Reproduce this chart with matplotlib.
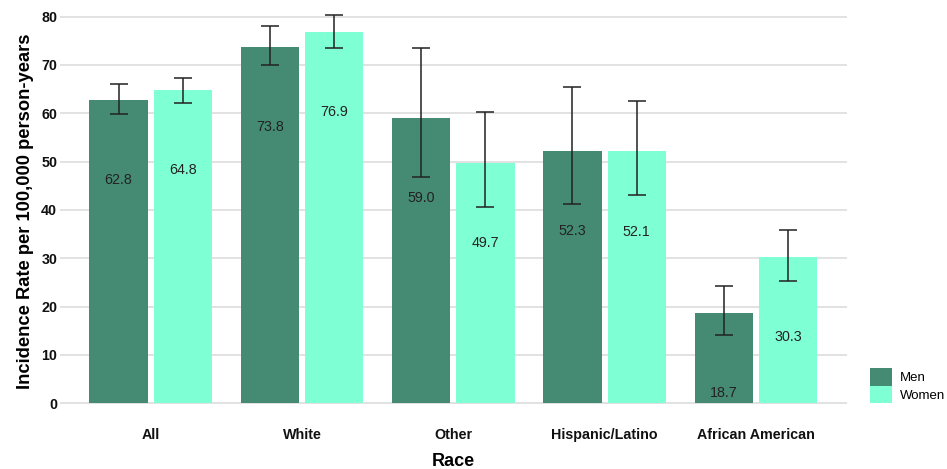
import numpy as np
import matplotlib.pyplot as plt
from matplotlib.patches import Patch

plt.rcParams['font.family'] = ['Liberation Sans', 'DejaVu Sans']

races = ['All', 'White', 'Other', 'Hispanic/Latino', 'African American']
men = [62.8, 73.8, 59.0, 52.3, 18.7]
women = [64.8, 76.9, 49.7, 52.1, 30.3]
men_low = [59.8, 70.0, 46.8, 41.2, 14.1]
men_high = [66.0, 78.0, 73.5, 65.5, 24.3]
women_low = [62.2, 73.5, 40.6, 43.0, 25.2]
women_high = [67.3, 80.4, 60.2, 62.5, 35.9]

men_color = '#458B74'
women_color = '#7FFFD4'

fig = plt.figure(figsize=(9.47, 4.69), dpi=100)
ax = fig.add_axes([60 / 947, 1 - 422.6 / 469, 786.7 / 947, 422.6 / 469])

x = np.arange(len(races))
w = 0.387
off = 0.2125

for vals, lo, hi, pos, col in [(men, men_low, men_high, x - off, men_color),
                               (women, women_low, women_high, x + off, women_color)]:
    vals = np.array(vals)
    ax.bar(pos, vals, width=w, color=col, zorder=2)
    yerr = [vals - np.array(lo), np.array(hi) - vals]
    ax.errorbar(pos, vals, yerr=yerr, fmt='none', ecolor='#222222',
                elinewidth=1.1, capsize=6.8, capthick=1.1, zorder=3)
    # value labels sit a fixed distance below the bar top
    for px, v in zip(pos, vals):
        ax.text(px, v - 16.6, f'{v:.1f}', ha='center', va='center',
                fontsize=10.3, color='#222222', zorder=4)

ax.set_xlim(-0.6, 4.6)
ax.set_ylim(-4.0, 83.45)
ax.set_yticks(range(0, 81, 10))
ax.set_xticks(x)
ax.set_xticklabels(races, fontweight='bold', fontsize=10.3, color='#111111')
for lab in ax.get_yticklabels():
    lab.set_fontweight('bold')
    lab.set_fontsize(10.3)
    lab.set_color('#111111')
ax.tick_params(axis='y', length=0, pad=2)
ax.tick_params(axis='x', length=0, pad=4)
ax.grid(axis='y', color='#DDDDDD', linewidth=1.2, zorder=0)
ax.grid(axis='x', visible=False)
for s in ax.spines.values():
    s.set_visible(False)

ax.set_xlabel('Race', fontweight='bold', fontsize=13, labelpad=8)
ax.set_ylabel('Incidence Rate per 100,000 person-years', fontweight='bold',
              fontsize=13.2, labelpad=5)

handles = [Patch(facecolor=men_color, label='Men'),
           Patch(facecolor=women_color, label='Women')]
fig.legend(handles=handles, loc='upper left',
           bbox_to_anchor=(870 / 947, 1 - 367.7 / 469), frameon=False,
           fontsize=9.5, handlelength=1.7, handleheight=1.7,
           labelspacing=0.0, borderpad=0, borderaxespad=0, handletextpad=0.6)

fig.savefig('out.png', dpi=100)
